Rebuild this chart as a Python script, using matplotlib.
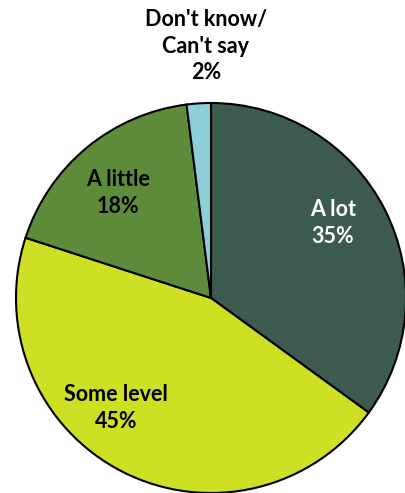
import matplotlib.pyplot as plt

labels = ["A lot", "Some level", "A little", "Don't know/\nCan't say"]
values = [35, 45, 18, 2]
colors = ["#3d5a4f", "#cde024", "#5f8c3b", "#8dcfd7"]
text_colors = ["white", "black", "black", "black"]
# label anchor points, relative to pie centre (pixels)
label_pos = [(122, 75), (-95, -110), (-93, 105), (-5, 252)]

fig = plt.figure(figsize=(4.06, 4.93), dpi=100)
ax = fig.add_axes([0, 0, 1, 1])

R = 195
ax.pie(values, colors=colors, startangle=90, counterclock=False, radius=R,
       wedgeprops=dict(edgecolor="black", linewidth=1.5))

for lab, v, tc, (x, y) in zip(labels, values, text_colors, label_pos):
    ax.text(x, y, f"{lab}\n{v}%", ha="center", va="center", color=tc,
            fontsize=15.5, fontweight="bold", family="Lato", linespacing=1.3)

ax.set_aspect("equal")
ax.set_xlim(-211, 406 - 211)
ax.set_ylim(-(493 - 298), 298)
ax.axis("off")

fig.savefig("out.png", dpi=100)
